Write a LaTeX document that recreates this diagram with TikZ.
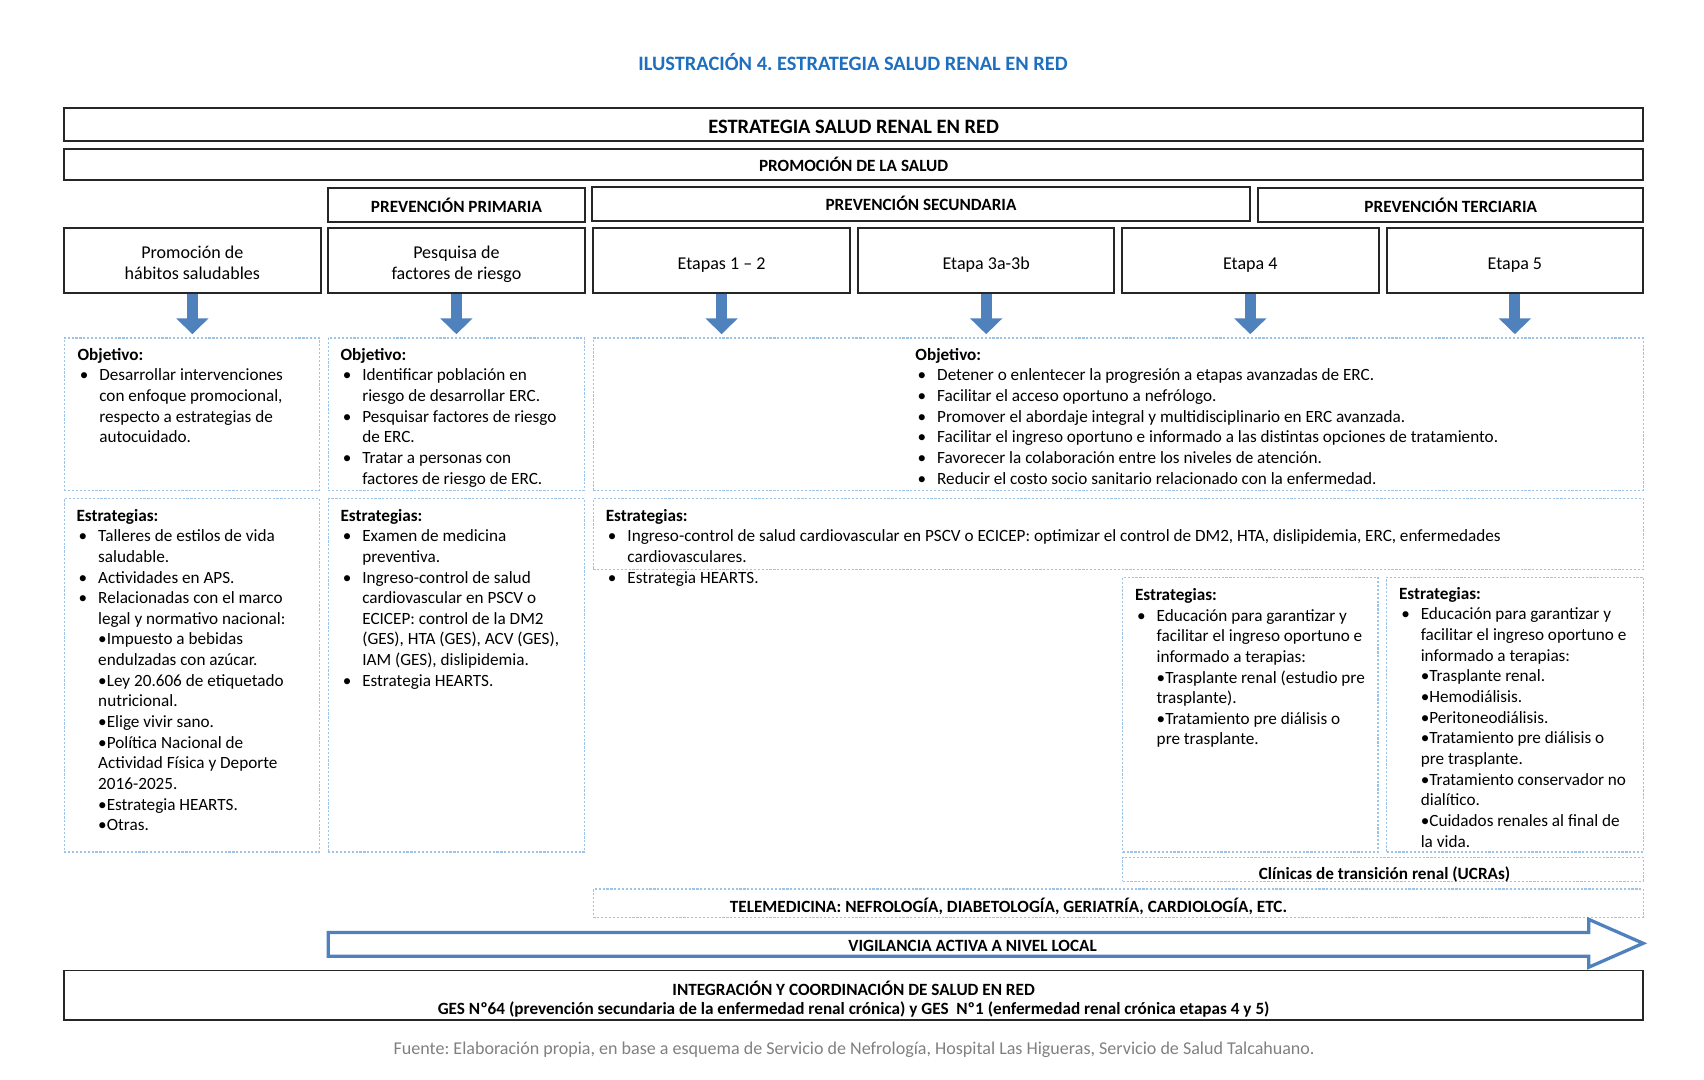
\documentclass[tikz,border=0pt]{standalone}
\usepackage{fontspec}
\setmainfont{Carlito}
\usetikzlibrary{arrows.meta}
\definecolor{titleblue}{HTML}{1F6FC0}
\definecolor{arrowblue}{HTML}{4F81BD}
\definecolor{dotblue}{HTML}{9DC3E6}
\definecolor{fuentegray}{HTML}{808080}
\frenchspacing
\newcommand{\bul}{\par\noindent\hangindent=10pt\hangafter=1\hbox to 10pt{\kern1pt\textbullet\hfil}}
\newcommand{\sbul}{\par\noindent\hangindent=10pt\hangafter=0\textbullet}
\newcommand{\twolines}[2]{\raisebox{-1.8pt}[\height][\depth]{\begin{tabular}{@{}c@{}}#1\\#2\end{tabular}}}
\begin{document}
\begin{tikzpicture}[x=0.5pt,y=-0.5pt,
    hdbox/.style={draw=black!85, line width=0.9pt, inner sep=0pt, font=\bfseries\fontsize{7.9}{9}\selectfont},
    stagebox/.style={draw=black!85, line width=0.9pt, inner sep=0pt, minimum width=118pt, minimum height=30pt, font=\fontsize{8.3}{9.5}\selectfont},
    dotbox/.style={draw=dotblue, dash pattern=on 1pt off 0.8pt, line width=0.5pt, inner sep=0pt},
    txt/.style={anchor=north west, inner sep=0pt, text width=#1, align=flush left, font=\fontsize{7.9}{9.5}\selectfont},
    downarr/.style={line width=5pt, draw=arrowblue, -{Triangle[width=14.5pt,length=7.3pt]}, shorten >=1.5pt}]
    \useasboundingbox (0,0) rectangle (1568,993);
    \node[font=\bfseries\fontsize{9.4}{11}\selectfont, text=titleblue] (title) at (785,57) {ILUSTRACIÓN 4. ESTRATEGIA SALUD RENAL EN RED};
    % cabeceras
    \node[hdbox, minimum width=726.5pt, minimum height=15.5pt, font=\bfseries\fontsize{9.4}{11}\selectfont] (esr) at (785.5,114.5) {\rule{0pt}{8.5pt}ESTRATEGIA SALUD RENAL EN RED};
    \node[hdbox, minimum width=726.5pt, minimum height=14.5pt] (promo) at (785.5,151.5) {PROMOCIÓN DE LA SALUD};
    \node[hdbox, minimum width=118pt, minimum height=15.5pt] (prim) at (420,188.5) {PREVENCIÓN PRIMARIA};
    \node[hdbox, minimum width=302.5pt, minimum height=15.5pt] (sec) at (847.5,187.5) {PREVENCIÓN SECUNDARIA};
    \node[hdbox, minimum width=177pt, minimum height=15.5pt] (ter) at (1335,188.5) {PREVENCIÓN TERCIARIA};
    % etapas
    \node[stagebox] (hab) at (177,240) {\twolines{Promoción de}{hábitos saludables}};
    \node[stagebox] (pesq) at (420,240) {\twolines{Pesquisa de}{factores de riesgo}};
    \node[stagebox] (et12) at (664,240) {\rule{0pt}{9pt}Etapas 1 -- 2};
    \node[stagebox] (et3) at (907.5,240) {\rule{0pt}{9pt}Etapa 3a-3b};
    \node[stagebox] (et4) at (1150.5,240) {\rule{0pt}{9pt}Etapa 4};
    \node[stagebox] (et5) at (1394,240) {\rule{0pt}{9pt}Etapa 5};
    % objetivos
    \node[dotbox, minimum width=117.5pt, minimum height=70pt] (obj1) at (176.5,381) {};
    \node[dotbox, minimum width=118pt, minimum height=70pt] (obj2) at (420,381) {};
    \node[dotbox, minimum width=483pt, minimum height=70pt] (obj3) at (1029,381) {};
    \draw[downarr] (hab.south) -- (hab.south |- obj1.north);
    \draw[downarr] (pesq.south) -- (pesq.south |- obj2.north);
    \foreach \s in {et12,et3,et4,et5}
      \draw[downarr] (\s.south) -- (\s.south |- obj3.north);
    \node[txt=112pt] (tobj1) at (71,320) {\textbf{Objetivo:}
      \bul Desarrollar intervenciones\newline con enfoque promocional,\newline respecto a estrategias de\newline autocuidado.\par};
    \node[txt=112pt] (tobj2) at (313,320) {\textbf{Objetivo:}
      \bul Identificar población en\newline riesgo de desarrollar ERC.
      \bul Pesquisar factores de riesgo\newline de ERC.
      \bul Tratar a personas con\newline factores de riesgo de ERC.\par};
    \node[txt=330pt] (tobj3) at (842,320) {\textbf{Objetivo:}
      \bul Detener o enlentecer la progresión a etapas avanzadas de ERC.
      \bul Facilitar el acceso oportuno a nefrólogo.
      \bul Promover el abordaje integral y multidisciplinario en ERC avanzada.
      \bul Facilitar el ingreso oportuno e informado a las distintas opciones de tratamiento.
      \bul Favorecer la colaboración entre los niveles de atención.
      \bul Reducir el costo socio sanitario relacionado con la enfermedad.\par};
    % estrategias
    \node[dotbox, minimum width=117.5pt, minimum height=162.5pt] (est1) at (176.5,621.5) {};
    \node[dotbox, minimum width=118pt, minimum height=162.5pt] (est2) at (420,621.5) {};
    \node[dotbox, minimum width=483pt, minimum height=32.5pt] (est3) at (1029,491.5) {};
    \node[dotbox, minimum width=117.5pt, minimum height=126.5pt] (est4) at (1150.5,657.5) {};
    \node[dotbox, minimum width=118pt, minimum height=126.5pt] (est5) at (1394,657.5) {};
    \node[txt=112pt] (test1) at (70,468) {\textbf{Estrategias:}
      \bul Talleres de estilos de vida\newline saludable.
      \bul Actividades en APS.
      \bul Relacionadas con el marco\newline legal y normativo nacional:
      \sbul Impuesto a bebidas\newline endulzadas con azúcar.
      \sbul Ley 20.606 de etiquetado\newline nutricional.
      \sbul Elige vivir sano.
      \sbul Política Nacional de\newline Actividad Física y Deporte\newline 2016-2025.
      \sbul Estrategia HEARTS.
      \sbul Otras.\par};
    \node[txt=112pt] (test2) at (313,468) {\textbf{Estrategias:}
      \bul Examen de medicina\newline preventiva.
      \bul Ingreso-control de salud\newline cardiovascular en PSCV o\newline ECICEP: control de la DM2\newline (GES), HTA (GES), ACV (GES),\newline IAM (GES), dislipidemia.
      \bul Estrategia HEARTS.\par};
    \node[txt=470pt] (test3) at (557,468) {\textbf{Estrategias:}
      \bul Ingreso-control de salud cardiovascular en PSCV o ECICEP: optimizar el control de DM2, HTA, dislipidemia, ERC, enfermedades\newline cardiovasculares.
      \bul Estrategia HEARTS.\par};
    \node[txt=112pt] (test4) at (1044,541) {\textbf{Estrategias:}
      \bul Educación para garantizar y\newline facilitar el ingreso oportuno e\newline informado a terapias:
      \sbul Trasplante renal (estudio pre\newline trasplante).
      \sbul Tratamiento pre diálisis o\newline pre trasplante.\par};
    \node[txt=112pt] (test5) at (1287,540) {\textbf{Estrategias:}
      \bul Educación para garantizar y\newline facilitar el ingreso oportuno e\newline informado a terapias:
      \sbul Trasplante renal.
      \sbul Hemodiálisis.
      \sbul Peritoneodiálisis.
      \sbul Tratamiento pre diálisis o\newline pre trasplante.
      \sbul Tratamiento conservador no\newline dialítico.
      \sbul Cuidados renales al final de\newline la vida.\par};
    % bandas inferiores
    \node[dotbox, minimum width=239.5pt, minimum height=11pt] (ucra) at (1272.5,800) {};
    \node[font=\bfseries\fontsize{7.9}{9}\selectfont, inner sep=0pt] (tucra) at (1274,805) {Clínicas de transición renal (UCRAs)};
    \node[dotbox, minimum width=483pt, minimum height=13pt] (tele) at (1029,831) {};
    \node[font=\bfseries\fontsize{7.9}{9}\selectfont, inner sep=0pt] (ttele) at (928,834) {TELEMEDICINA: NEFROLOGÍA, DIABETOLOGÍA, GERIATRÍA, CARDIOLOGÍA, ETC.};
    \draw[arrowblue, line width=1.5pt, fill=white, line join=miter]
      (302,858) -- (1462,858) -- (1462,846) -- (1512,868) -- (1462,890) -- (1462,880) -- (302,880) -- cycle;
    \node[font=\bfseries\fontsize{7.9}{9}\selectfont, inner sep=0pt] (vig) at (895,870) {VIGILANCIA ACTIVA A NIVEL LOCAL};
    \node[hdbox, minimum width=726.5pt, minimum height=23pt, align=center] (integ) at (785.5,916) {\rule{0pt}{10pt}INTEGRACIÓN Y COORDINACIÓN DE SALUD EN RED\\GES Nº64 (prevención secundaria de la enfermedad renal crónica) y GES~~Nº1 (enfermedad renal crónica etapas 4 y 5)};
    \node[font=\fontsize{8.3}{10}\selectfont, text=fuentegray] (fuente) at (786,966) {Fuente: Elaboración propia, en base a esquema de Servicio de Nefrología, Hospital Las Higueras, Servicio de Salud Talcahuano.};
\end{tikzpicture}
\end{document}
